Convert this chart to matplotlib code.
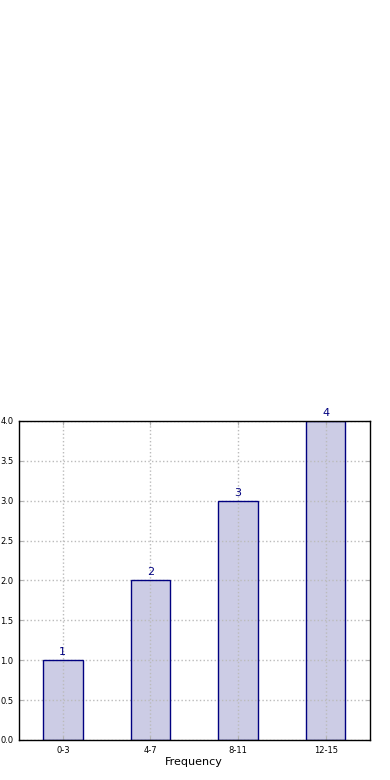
import matplotlib
matplotlib.use("Agg")
from matplotlib import pyplot as plt

# data
categories = ['0-3', '4-7', '8-11', '12-15']
counts = [1, 2, 3, 4]

fig = plt.figure(figsize=(3.9, 7.8), dpi=100)
ax = fig.add_axes([0.0487, 0.0513, 0.899, 0.4090])

pos = list(range(len(categories)))
# fill under the grid, outline above it
ax.bar(pos, counts, width=0.45, color='navy', alpha=0.2, zorder=1)
ax.bar(pos, counts, width=0.45, facecolor='none', edgecolor='navy', linewidth=1, zorder=4)

for x, c in zip(pos, counts):
    ax.text(x, c + 0.04, str(c), ha='center', va='bottom', color='navy', fontsize=8)

ax.set_xlim(-0.5, 3.5)
ax.set_ylim(0, 4)
ax.set_xticks(pos)
ax.set_xticklabels(categories)
ax.set_yticks([i * 0.5 for i in range(9)])
ax.tick_params(direction='in', top=True, right=True, color='#b0b0b0', length=3,
               labelsize=6, pad=4)
ax.set_xlabel('Frequency', fontsize=8, labelpad=2)
ax.grid(True, color='#bbbbbb', linestyle=':', linewidth=1, zorder=3)
ax.set_axisbelow(False)
for s in ax.spines.values():
    s.set_linewidth(1)
    s.set_zorder(5)

fig.savefig('out.png', dpi=100)
